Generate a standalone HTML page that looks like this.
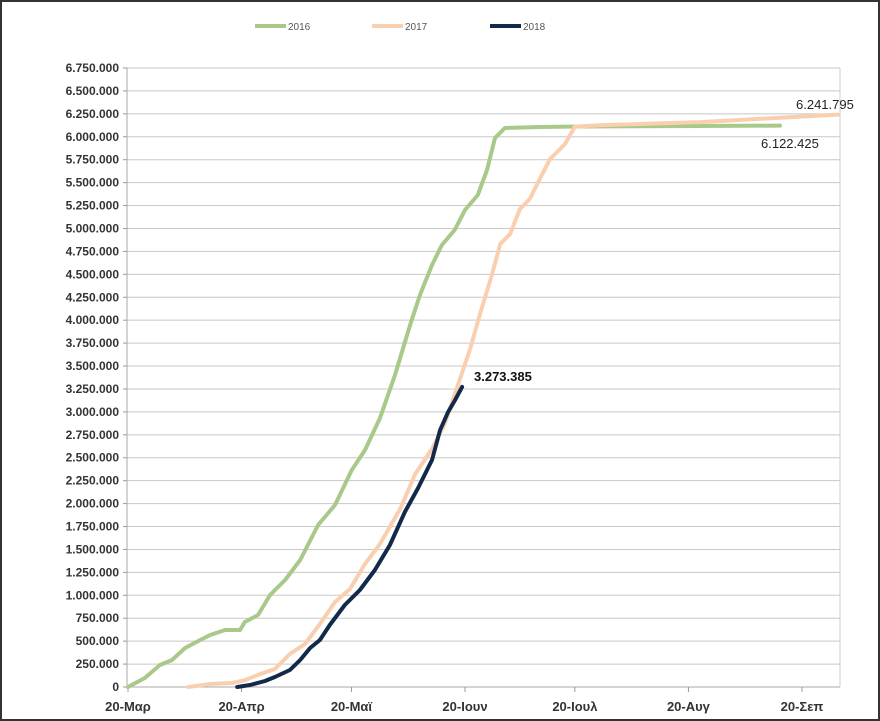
<!DOCTYPE html>
<html><head><meta charset="utf-8"><style>
body{margin:0;background:#fff}
svg{display:block;font-family:"Liberation Sans Narrow","Liberation Sans",sans-serif}
</style></head><body>
<svg id="c" width="880" height="721">
<rect x="1" y="1" width="878" height="719" fill="#fff" stroke="#333" stroke-width="2"/>
<g id="grid"></g><g id="axes"></g><g id="series"></g>
<g font-family="Liberation Sans,sans-serif" font-size="10" fill="#555">
<g><line x1="255" y1="26" x2="286" y2="26" stroke="#a9c98b" stroke-width="4"/><text x="288" y="30">2016</text></g>
<g><line x1="372" y1="26" x2="403" y2="26" stroke="#f9cfaf" stroke-width="4"/><text x="405" y="30">2017</text></g>
<g><line x1="490" y1="26" x2="521" y2="26" stroke="#12294a" stroke-width="4"/><text x="523" y="30">2018</text></g>
</g>
<text x="796" y="109" font-family="Liberation Sans,sans-serif" font-size="13" fill="#222">6.241.795</text>
<text x="761" y="148" font-family="Liberation Sans,sans-serif" font-size="13" fill="#222">6.122.425</text>
<text x="474" y="381" font-family="Liberation Sans,sans-serif" font-size="13" font-weight="bold" fill="#111">3.273.385</text>
</svg>
<script>
// days since 20 March, values in thousands
const xTickLabels=["20-Μαρ","20-Απρ","20-Μαϊ","20-Ιουν","20-Ιουλ","20-Αυγ","20-Σεπ"];
const xTickDays=[0,31,61,92,122,153,184];
const days2016=[0,4.6,8.7,12,15.6,19.7,22.4,26.5,30.6,31.9,35.5,38.8,42.9,47,51.9,56.5,61.1,64.7,68.8,72.9,77,79.7,83,85.7,89.2,92,95.5,98,100.2,102.9,112.5,123.4,156.2,178];
const vals2016=[0,98,240,294,425,513,567,622,622,709,785,1003,1167,1385,1767,1985,2366,2584,2933,3402,3947,4274,4602,4820,4984,5202,5365,5638,5987,6096,6107,6112,6118,6122];
const days2017=[16.4,22.4,28.4,31.9,36,40.1,44.2,48.3,52.4,56.5,60.6,64.7,68.8,74.3,78.4,83,86.5,90.6,93.4,96.1,99.4,101.6,104.3,107,109.7,112.4,115.2,119.3,122,128.9,156.2,193.8];
const vals2017=[0,33,44,74,140,196,360,469,687,927,1069,1342,1560,1942,2323,2596,2869,3358,3685,4067,4503,4831,4940,5212,5321,5539,5757,5921,6111,6126,6160,6242];
const days2018=[29.8,33.3,37.4,40.1,44.2,47,49.7,52.4,55.1,59.2,63.3,67.4,71.5,75.6,79.2,83,85.2,87.4,89.3,91.2];
const vals2018=[0,22,65,109,185,294,425,513,676,894,1058,1276,1549,1909,2170,2475,2802,2999,3130,3273];
const yMax=6750, yStep=250;
const X0=127,X1=840,Y0=687,Y1=68;
const xs=d=>128+d*3.663;
const ys=v=>Y0-(v/yMax)*(Y0-Y1);
const NS="http://www.w3.org/2000/svg";
function mk(t,a,p){const e=document.createElementNS(NS,t);for(const k in a)e.setAttribute(k,a[k]);p.appendChild(e);return e;}
const grid=document.getElementById('grid'),axes=document.getElementById('axes'),ser=document.getElementById('series');
for(let v=0;v<=yMax;v+=yStep){
 const y=ys(v);
 if(v>0){const g=mk('line',{x1:X0,x2:X1,y1:y,y2:y,stroke:'#c8c8c8','stroke-width':1},grid);
 
 }
 const tk=mk('line',{x1:X0-4,x2:X0,y1:y,y2:y,stroke:'#999'},axes);
 
 
 const t=mk('text',{x:X0-8,y:y+4,'text-anchor':'end','font-size':12,'font-weight':'bold',fill:'#333'},axes);
 t.textContent=v===0?'0':(v*1000).toLocaleString('de-DE');
 
 
}
const ya=mk('line',{x1:X0,x2:X0,y1:Y1,y2:Y0,stroke:'#aaa'},axes);


const xa=mk('line',{x1:X0,x2:X1,y1:Y0,y2:Y0,stroke:'#aaa'},axes);


const ra=mk('line',{x1:X1,x2:X1,y1:Y1,y2:Y0,stroke:'#ccc'},axes);


xTickDays.forEach((d,i)=>{
 const x=xs(d);
 const tk=mk('line',{x1:x,x2:x,y1:Y0,y2:Y0+5,stroke:'#999'},axes);
 
 
 const t=mk('text',{x:x,y:Y0+24,'text-anchor':'middle','font-size':13,'font-weight':'bold',fill:'#333'},axes);
 t.textContent=xTickLabels[i];
 
 
});
function line(days,vals,color,name){
 const d=days.map((dd,i)=>(i?'L':'M')+xs(dd).toFixed(1)+','+ys(vals[i]).toFixed(1)).join(' ');
 const p=mk('path',{d:d,fill:'none',stroke:color,'stroke-width':4,'stroke-linejoin':'round','stroke-linecap':'round'},ser);
 
 
}
line(days2016,vals2016,'#a9c98b','series-2016');
line(days2017,vals2017,'#f9cfaf','series-2017');
line(days2018,vals2018,'#12294a','series-2018');
</script>
</body></html>
